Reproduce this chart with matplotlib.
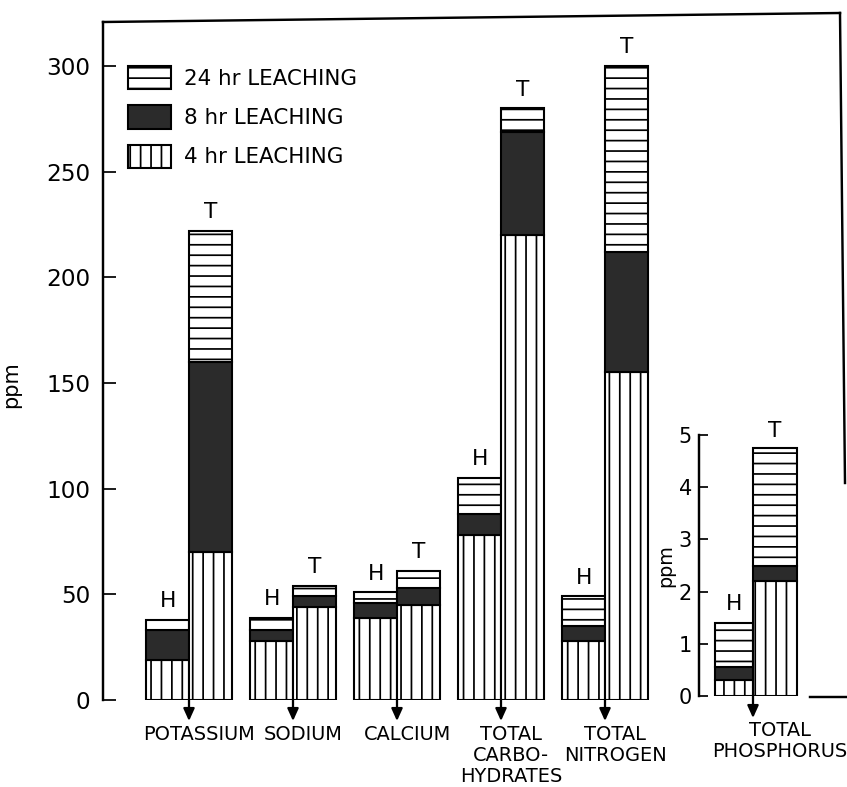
import matplotlib
matplotlib.use("Agg")
import matplotlib.pyplot as plt
from matplotlib.patches import Patch
import numpy as np

plt.rcParams['font.family'] = ['DejaVu Sans']
plt.rcParams['hatch.linewidth'] = 1.0

# ---- data (ppm) ----
categories = ['POTASSIUM', 'SODIUM', 'CALCIUM', 'TOTAL\nCARBO-\nHYDRATES', 'TOTAL\nNITROGEN']
series_labels = ['24 hr LEACHING', '8 hr LEACHING', '4 hr LEACHING']

# amount added in each leaching period (stacked: 4 hr, then 8 hr, then 24 hr)
H_4hr = [19, 28, 39, 78, 28]
H_8hr = [14, 5, 7, 10, 7]
H_24hr = [5, 6, 5, 17, 14]
T_4hr = [70, 44, 45, 220, 155]
T_8hr = [90, 5, 8, 49, 57]
T_24hr = [62, 5, 8, 11, 88]

phos_category = 'TOTAL\nPHOSPHORUS'
P_H = [0.3, 0.25, 0.85]   # 4 hr, 8 hr, 24 hr
P_T = [2.2, 0.3, 2.25]

yticks_main = [0, 50, 100, 150, 200, 250, 300]
yticks_inset = [0, 1, 2, 3, 4, 5]

# ---- figure ----
W, H = 847, 787
DPI = 125
fig = plt.figure(figsize=(W / DPI, H / DPI), dpi=DPI)

unit_px = 104.0
ppu = 2.113
x0_px = 189.0
ax_left_px, ax_right_px = 103, 847
ax_bot_px, ax_top_px = 700, 13
ax = fig.add_axes([ax_left_px / W, (H - ax_bot_px) / H,
                   (ax_right_px - ax_left_px) / W, (ax_bot_px - ax_top_px) / H])
ax.set_xlim((ax_left_px - x0_px) / unit_px, (ax_right_px - x0_px) / unit_px)
ax.set_ylim(0, (ax_bot_px - ax_top_px) / ppu)

bw = 0.41
dark = '#2b2b2b'
styles = [dict(facecolor='white', hatch='||'),
          dict(facecolor=dark, hatch=None),
          dict(facecolor='white', hatch='--')]


def stacked(axis, x, parts, width):
    bottom = 0
    for val, st in zip(parts, styles):
        axis.bar(x, val, width=width, bottom=bottom, facecolor=st['facecolor'],
                 hatch=st['hatch'], edgecolor='black', linewidth=1.2, zorder=2)
        bottom += val
    return bottom


arrow_kw = dict(arrowstyle='-|>,head_length=0.42,head_width=0.19', color='black',
                lw=1.3, shrinkA=0, shrinkB=0, mutation_scale=14)

groups = np.arange(len(categories))
for i, g in enumerate(groups):
    hx = g - bw / 2
    tx = g + bw / 2
    htop = stacked(ax, hx, [H_4hr[i], H_8hr[i], H_24hr[i]], bw)
    ttop = stacked(ax, tx, [T_4hr[i], T_8hr[i], T_24hr[i]], bw)
    ax.annotate('H', (hx, htop), xytext=(0, 5), textcoords='offset points',
                ha='center', va='bottom', fontsize=12.5)
    ax.annotate('T', (tx, ttop), xytext=(0, 5), textcoords='offset points',
                ha='center', va='bottom', fontsize=12.5)
    ax.annotate('', xy=(g, -21 / ppu), xytext=(g, 0), arrowprops=arrow_kw,
                annotation_clip=False)
    ax.annotate(categories[i], (g + 0.1, 0), xytext=(0, -14.5), textcoords='offset points',
                ha='center', va='top', fontsize=11.2, linespacing=1.12,
                annotation_clip=False)

# spines / frame
for s in ['top', 'right', 'bottom']:
    ax.spines[s].set_visible(False)
ytop_left = (ax_bot_px - 22) / ppu
ytop_right = (ax_bot_px - 13) / ppu
ax.spines['left'].set_bounds(0, ytop_left)
ax.spines['left'].set_linewidth(1.4)
xl = ax.get_xlim()
ax.plot([xl[0], (840 - x0_px) / unit_px], [ytop_left, ytop_right], color='black',
        lw=1.4, clip_on=False, zorder=3)
ax.plot([(840 - x0_px) / unit_px, (845 - x0_px) / unit_px], [ytop_right, (ax_bot_px - 483) / ppu],
        color='black', lw=1.4, clip_on=False, zorder=3)
ax.plot([(810 - x0_px) / unit_px, xl[1]], [3 / ppu, 3 / ppu], color='black', lw=1.4,
        clip_on=False, zorder=3)

ax.set_xticks([])
ax.set_yticks(yticks_main)
ax.tick_params(axis='y', direction='in', length=7.5, width=1.0, labelsize=13.3, pad=7.5)
ax.set_ylabel('ppm', fontsize=12, labelpad=14)
ax.yaxis.set_label_coords(-0.11, (ax_bot_px - 385) / (ax_bot_px - ax_top_px))

# legend
handles = [Patch(facecolor='white', hatch='--', edgecolor='black', lw=1.2),
           Patch(facecolor=dark, edgecolor='black', lw=1.2),
           Patch(facecolor='white', hatch='||', edgecolor='black', lw=1.2)]
ax.legend(handles, series_labels, loc='upper left',
          bbox_to_anchor=(128 / W, 1 - 66 / H), bbox_transform=fig.transFigure,
          frameon=False, prop={'size': 12.3}, handlelength=2.0, handleheight=1.3,
          handletextpad=0.6, labelspacing=0.75, borderpad=0, borderaxespad=0)

# ---- inset: phosphorus ----
in_left, in_right, in_bot, in_top = 699, 847, 696, 435
axi = fig.add_axes([in_left / W, (H - in_bot) / H, (in_right - in_left) / W,
                    (in_bot - in_top) / H])
axi.set_xlim((in_left - 753) / unit_px, (in_right - 753) / unit_px)
axi.set_ylim(0, 5)
axi.patch.set_alpha(0)
pH = stacked(axi, -0.185, P_H, 0.37)
pT = stacked(axi, 0.21, P_T, 0.42)
axi.annotate('H', (-0.185, pH), xytext=(0, 5), textcoords='offset points',
             ha='center', va='bottom', fontsize=12.5)
axi.annotate('T', (0.21, pT), xytext=(0, 4), textcoords='offset points',
             ha='center', va='bottom', fontsize=12.5)
ppu_in = (in_bot - in_top) / 5
axi.annotate('', xy=(0, -22 / ppu_in), xytext=(0, 0), arrowprops=arrow_kw,
             annotation_clip=False)
axi.annotate(phos_category, (0.26, 0), xytext=(0, -14.5), textcoords='offset points',
             ha='center', va='top', fontsize=11.2, linespacing=1.12, annotation_clip=False)
for s in ['top', 'right', 'bottom']:
    axi.spines[s].set_visible(False)
axi.spines['left'].set_linewidth(1.4)
axi.set_xticks([])
axi.set_yticks(yticks_inset)
axi.tick_params(axis='y', direction='in', length=5, width=1.0, labelsize=12, pad=4)
axi.set_ylabel('ppm', fontsize=11, labelpad=2)

fig.savefig('out.png', dpi=DPI)
